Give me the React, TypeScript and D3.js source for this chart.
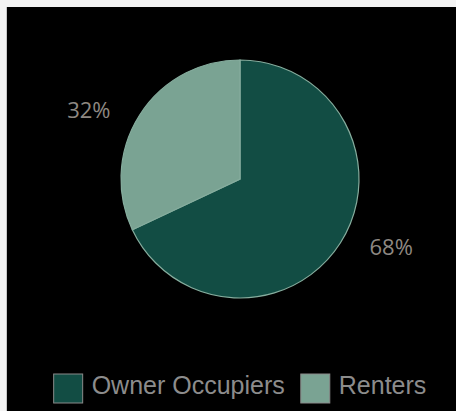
import React, { useEffect, useRef } from "react";
import * as d3 from "d3";

const categories: string[] = ["Owner Occupiers", "Renters"];
const shares: number[] = [68, 32];
const colors: string[] = ["#124d44", "#7aa393"];

const W = 456;
const H = 411;

export default function App() {
  const ref = useRef<SVGSVGElement | null>(null);

  useEffect(() => {
    const svg = d3.select(ref.current);
    svg.selectAll("*").remove();

    svg.append("rect").attr("x", 0).attr("y", 0).attr("width", W).attr("height", H).attr("fill", "#f4f4f4");
    svg.append("rect").attr("x", 6).attr("y", 7).attr("width", 1).attr("height", H - 7).attr("fill", "#c8c8c8");
    svg.append("rect").attr("x", 7).attr("y", 7).attr("width", W - 7).attr("height", H - 7).attr("fill", "#000000");

    const cx = 240;
    const cy = 179;
    const r = 119;

    const data = categories.map((c, i) => ({ name: c, value: shares[i], color: colors[i] }));
    const pie = d3.pie<any>().sort(null).value((d: any) => d.value);
    const arcs = pie(data);
    const arcGen = d3.arc<any>().innerRadius(0).outerRadius(r);

    const g = svg.append("g").attr("transform", `translate(${cx},${cy})`);
    g.selectAll("path")
      .data(arcs)
      .enter()
      .append("path")
      .attr("d", arcGen as any)
      .attr("fill", (d: any) => d.data.color)
      .attr("stroke", "#86ad9e")
      .attr("stroke-width", 1.2);

    const labelOffset = (-8 * Math.PI) / 180;
    const labelArc = d3.arc<any>().innerRadius(166).outerRadius(166);
    g.selectAll("text.lbl")
      .data(arcs)
      .enter()
      .append("text")
      .attr("class", "lbl")
      .attr("transform", (d: any) => {
        const c = labelArc.centroid({ ...d, startAngle: d.startAngle + labelOffset, endAngle: d.endAngle + labelOffset } as any);
        return `translate(${c[0]},${c[1]})`;
      })
      .attr("text-anchor", "middle")
      .attr("dy", "0.35em")
      .attr("font-family", "'Open Sans', sans-serif")
      .attr("font-size", 22)
      .attr("fill", "#8e8882")
      .text((d: any) => `${d.data.value}%`);

    // legend
    const sq = 29;
    const gapText = 9;
    const gapItem = 16;
    const legendY = 374;
    const lg = svg.append("g");
    const items = data.map((d) => {
      const it = lg.append("g");
      it.append("rect")
        .attr("width", sq)
        .attr("height", sq)
        .attr("fill", d.color)
        .attr("stroke", "#8a8a8a")
        .attr("stroke-width", 1);
      const t = it.append("text")
        .attr("x", sq + gapText)
        .attr("y", 20)
        .attr("font-family", "'Liberation Sans', Arial, sans-serif")
        .attr("font-size", 25)
        .attr("fill", "#8c8c8c")
        .text(d.name);
      const tw = (t.node() as SVGTextElement).getComputedTextLength();
      return { it, w: sq + gapText + tw };
    });
    const total = items.reduce((s, o) => s + o.w, 0) + gapItem * (items.length - 1);
    let x = cx - total / 2;
    items.forEach((o) => {
      o.it.attr("transform", `translate(${x},${legendY})`);
      x += o.w + gapItem;
    });
  }, []);

  return (
    <div style={{ position: "absolute", left: 0, top: 0 }}>
      <svg ref={ref} width={W} height={H} style={{ display: "block" }} />
    </div>
  );
}
